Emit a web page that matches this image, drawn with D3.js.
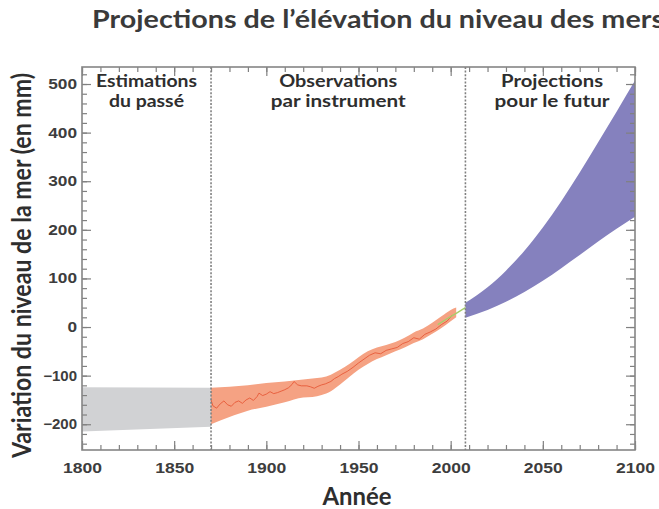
<!DOCTYPE html>
<html><head><meta charset="utf-8">
<script src="https://cdn.jsdelivr.net/npm/d3@7"></script>
<style>body{margin:0;background:#fff;overflow:hidden}</style></head>
<body>
<svg id="c" width="659" height="509"></svg>
<script>
// ---------- data ----------
const titleText = "Projections de l’élévation du niveau des mers";
const yLabelText = "Variation du niveau de la mer (en mm)";
const xLabelText = "Année";
const panelLabels = [
  {lines: ["Estimations", "du passé"], year: 1835},
  {lines: ["Observations", "par instrument"], year: 1939},
  {lines: ["Projections", "pour le futur"], year: 2055}
];
const dividerYears = [1870, 2008];
const xTickYears = [1800, 1850, 1900, 1950, 2000, 2050, 2100];
const yTickValues = [-200, -100, 0, 100, 200, 300, 400, 500];

// past estimates (grey band)
const pastYears = [1800, 1870];
const pastLower = [-215, -205];
const pastUpper = [-124, -125];

// tide gauge observations (red band + line)
const obsBandYears = [1870, 1880, 1890, 1900, 1910, 1920, 1925, 1930, 1935, 1940, 1945, 1950, 1955, 1960, 1965, 1970, 1975, 1980, 1985, 1990, 1995, 2000, 2003];
const obsBandLower = [-200, -185, -172, -164, -155, -145, -144, -140, -132, -118, -103, -88, -76, -66, -58, -50, -42, -33, -25, -14, -2, 12, 20];
const obsBandUpper = [-125, -123, -120, -115, -112, -108, -106, -104, -98, -88, -76, -62, -50, -42, -37, -31, -22, -11, -3, 9, 22, 35, 40];

const obsLineYears = [1870, 1871, 1873, 1875, 1877, 1879, 1881, 1883, 1885, 1887, 1889, 1891, 1893, 1895, 1896, 1898, 1900, 1902, 1904, 1906, 1908, 1910, 1912, 1914, 1915, 1917, 1919, 1922, 1924, 1926, 1928, 1930, 1932, 1935, 1937, 1939, 1941, 1944, 1947, 1950, 1953, 1956, 1959, 1962, 1965, 1968, 1971, 1974, 1977, 1980, 1983, 1986, 1989, 1992, 1995, 1998, 2001];
const obsLineValues = [-150, -162, -167, -158, -152, -160, -163, -155, -152, -157, -150, -146, -151, -143, -136, -141, -138, -133, -137, -135, -132, -129, -125, -118, -112, -119, -121, -121, -123, -126, -122, -119, -117, -112, -106, -102, -97, -91, -83, -74, -66, -58, -53, -55, -48, -45, -42, -34, -30, -22, -25, -15, -10, -4, 5, 12, 25];

// satellite altimetry (green line)
const satYears = [1993, 1998, 2003, 2008];
const satValues = [5, 17, 28, 40];

// projections (purple band)
const projYears = [2008, 2020, 2030, 2040, 2050, 2060, 2070, 2080, 2090, 2100];
const projLower = [19, 35, 52, 72, 95, 121, 148, 176, 202, 227];
const projUpper = [50, 82, 116, 157, 205, 259, 318, 380, 443, 507];

// ---------- layout ----------
const svg = d3.select("#c");
const L = 82, R = 635, T = 67, B = 450;
const x = d3.scaleLinear().domain([1800, 2100]).range([L, R]);
const y = d3.scaleLinear().domain([-253, 535]).range([B, T]);

const FONT = "Lato, 'Open Sans', sans-serif";
const TICKFONT = "'Liberation Sans', Arial, sans-serif";

function band(years, lo, up) {
  return d3.area().curve(d3.curveMonotoneX)
    .x((d, i) => x(years[i])).y0((d, i) => y(lo[i])).y1((d, i) => y(up[i]))(years);
}

const g = svg.append("g");
g.append("path").attr("d", band(pastYears, pastLower, pastUpper)).attr("fill", "#d1d2d4");
g.append("path").attr("d", band(obsBandYears, obsBandLower, obsBandUpper)).attr("fill", "#f5a283");
g.append("path").attr("d", band(projYears, projLower, projUpper)).attr("fill", "#8581be");

g.append("path")
  .attr("d", d3.line().x((d, i) => x(obsLineYears[i])).y((d, i) => y(obsLineValues[i]))(obsLineYears))
  .attr("fill", "none").attr("stroke", "#e5502f").attr("stroke-width", 0.8);
g.append("path")
  .attr("d", d3.line().x((d, i) => x(satYears[i])).y((d, i) => y(satValues[i]))(satYears))
  .attr("fill", "none").attr("stroke", "#a6cf6a").attr("stroke-width", 1.4);

// dividers
svg.selectAll("line.div").data(dividerYears).enter().append("line")
  .attr("x1", d => x(d)).attr("x2", d => x(d)).attr("y1", T).attr("y2", B)
  .attr("stroke", "#808080").attr("stroke-width", 1.6).attr("stroke-dasharray", "2,1.6");

// axes (inward ticks on all sides)
const tickCol = "#808080";
function styleAxis(sel) {
  sel.select(".domain").remove();
  sel.selectAll(".tick line").attr("stroke", tickCol).attr("stroke-width", 1.2);
}
const xMinor = d3.range(1800, 2101, 10);
const yMinor = d3.range(-240, 535, 20);
// bottom
svg.append("g").attr("transform", `translate(0,${B})`)
  .call(d3.axisBottom(x).tickValues(xMinor).tickSize(-5).tickFormat("")).call(styleAxis);
svg.append("g").attr("transform", `translate(0,${B})`)
  .call(d3.axisBottom(x).tickValues(xTickYears).tickSize(-9).tickPadding(13).tickFormat(d3.format("d"))).call(styleAxis)
  .call(s => s.selectAll("text").attr("font-family", TICKFONT).attr("font-weight", "bold")
    .attr("font-size", 14).attr("fill", "#3d3d3d").attr("textLength", 39).attr("lengthAdjust", "spacingAndGlyphs"));
// top
svg.append("g").attr("transform", `translate(0,${T})`)
  .call(d3.axisTop(x).tickValues(xMinor).tickSize(-5).tickFormat("")).call(styleAxis);
svg.append("g").attr("transform", `translate(0,${T})`)
  .call(d3.axisTop(x).tickValues(xTickYears).tickSize(-9).tickFormat("")).call(styleAxis);
// left
svg.append("g").attr("transform", `translate(${L},0)`)
  .call(d3.axisLeft(y).tickValues(yMinor).tickSize(-5).tickFormat("")).call(styleAxis);
svg.append("g").attr("transform", `translate(${L},0)`)
  .call(d3.axisLeft(y).tickValues(yTickValues).tickSize(-9).tickPadding(5).tickFormat(d3.format("d"))).call(styleAxis)
  .call(s => s.selectAll("text").attr("font-family", TICKFONT).attr("font-weight", "bold")
    .attr("font-size", 14).attr("fill", "#3d3d3d")
    .attr("textLength", d => String(d).replace("-", "").length * 9.6 + (d < 0 ? 5 : 0))
    .attr("lengthAdjust", "spacingAndGlyphs"));
// right
svg.append("g").attr("transform", `translate(${R},0)`)
  .call(d3.axisRight(y).tickValues(yMinor).tickSize(-5).tickFormat("")).call(styleAxis);
svg.append("g").attr("transform", `translate(${R},0)`)
  .call(d3.axisRight(y).tickValues(yTickValues).tickSize(-9).tickFormat("")).call(styleAxis);

// frame
svg.append("rect").attr("x", L).attr("y", T).attr("width", R - L).attr("height", B - T)
  .attr("fill", "none").attr("stroke", "#858585").attr("stroke-width", 1.6);

// panel labels
const panelWidths = [[101, 75], [118, 135], [102, 115]];
panelLabels.forEach((p, i) => {
  p.lines.forEach((ln, j) => {
    svg.append("text").attr("x", x(p.year)).attr("y", 87 + j * 20)
      .attr("text-anchor", "middle").attr("font-family", FONT).attr("font-weight", 700)
      .attr("font-size", 16.5).attr("fill", "#2e2e2e")
      .attr("textLength", panelWidths[i][j]).attr("lengthAdjust", "spacingAndGlyphs")
      .text(ln);
  });
});

// title
svg.append("text").attr("x", 92).attr("y", 28)
  .attr("font-family", FONT).attr("font-weight", 700).attr("font-size", 25).attr("fill", "#3a3a3a")
  .attr("textLength", 572).attr("lengthAdjust", "spacingAndGlyphs").text(titleText);

// y label
svg.append("text").attr("transform", `translate(31,${(458 + 73) / 2}) rotate(-90)`)
  .attr("text-anchor", "middle").attr("font-family", FONT).attr("font-weight", 700)
  .attr("font-size", 26).attr("fill", "#2e2e2e")
  .attr("textLength", 385).attr("lengthAdjust", "spacingAndGlyphs").text(yLabelText);

// x label
svg.append("text").attr("x", 357).attr("y", 505)
  .attr("text-anchor", "middle").attr("font-family", FONT).attr("font-weight", 700)
  .attr("font-size", 25).attr("fill", "#2e2e2e")
  .attr("textLength", 69).attr("lengthAdjust", "spacingAndGlyphs").text(xLabelText);
</script>
</body></html>
